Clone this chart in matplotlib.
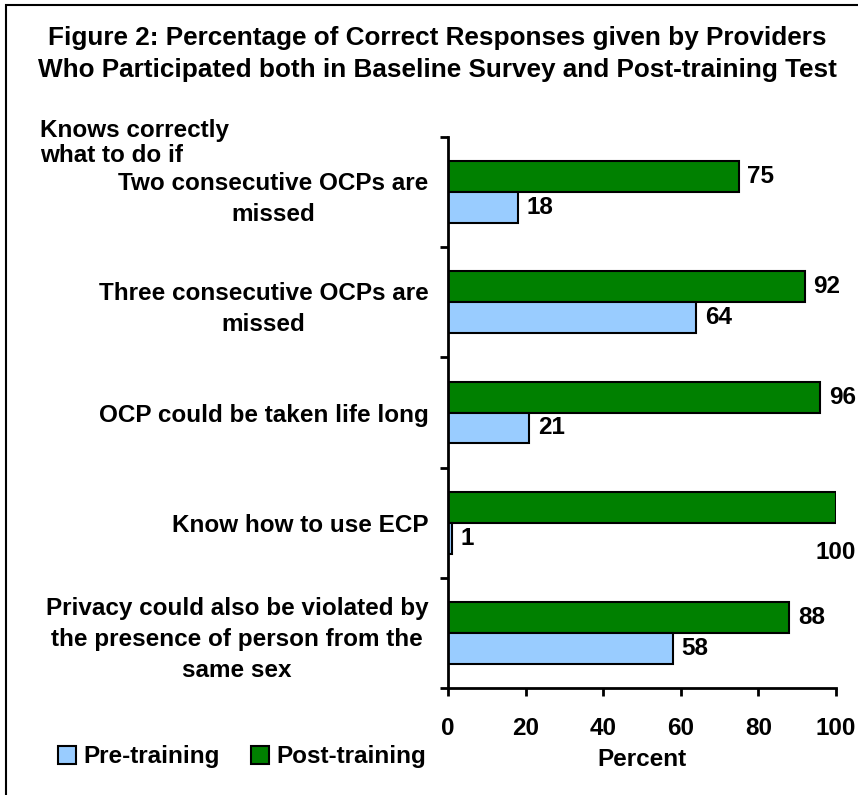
import numpy as np
import matplotlib.pyplot as plt
from matplotlib.patches import Rectangle

# Chart data
categories = ["Two consecutive OCPs are\nmissed",
              "Three consecutive OCPs are\nmissed",
              "OCP could be taken life long",
              "Know how to use ECP",
              "Privacy could also be violated by\nthe presence of person from the\nsame sex"]
pre_training = [18, 64, 21, 1, 58]
post_training = [75, 92, 96, 100, 88]
xticks = [0, 20, 40, 60, 80, 100]

plt.rcParams['font.family'] = ['Liberation Sans', 'DejaVu Sans']
plt.rcParams['font.weight'] = 'bold'

W, H = 858, 795
fig = plt.figure(figsize=(W/100, H/100), dpi=100)
ax = fig.add_axes([448/W, 1-688/H, (836-448)/W, (688-137)/H])

fs = 17.5
col_pre = '#99CCFF'
col_post = '#008000'
bh = 0.28
y = np.arange(len(categories))

ax.barh(y - bh/2, post_training, height=bh, color=col_post, edgecolor='black', linewidth=1.5, label='Post-training')
ax.barh(y + bh/2, pre_training, height=bh, color=col_pre, edgecolor='black', linewidth=1.5, label='Pre-training')

# value labels (the 100 does not fit to the right, so it sits under the bar)
for i in range(len(categories)):
    if post_training[i] >= 100:
        ax.text(post_training[i], y[i] + bh*0.95, str(post_training[i]), ha='center', va='center',
                fontsize=fs, fontweight='bold', clip_on=False)
    else:
        ax.annotate(str(post_training[i]), (post_training[i], y[i] - bh/2), xytext=(6, 0),
                    textcoords='offset points', va='center', fontsize=fs, fontweight='bold')
    ax.annotate(str(pre_training[i]), (pre_training[i], y[i] + bh/2), xytext=(6, 0),
                textcoords='offset points', va='center', fontsize=fs, fontweight='bold')

ax.set_xlim(0, 100)
ax.set_ylim(len(categories) - 0.5, -0.5)
ax.set_xticks(xticks)
ax.set_xticklabels([str(t) for t in xticks], fontsize=fs, fontweight='bold')
ax.set_yticks(np.arange(len(categories) + 1) - 0.5)
ax.set_yticklabels([])
ax.set_yticks(y, minor=True)
ax.set_yticklabels(categories, minor=True, fontsize=fs, fontweight='bold', ha='right',
                   multialignment='center', linespacing=1.45)
ax.tick_params(axis='y', which='minor', length=0, pad=14)
ax.tick_params(axis='y', which='major', length=6, width=2, direction='out')
ax.tick_params(axis='x', length=6, width=2, direction='out', pad=15)
for s in ['top', 'right']:
    ax.spines[s].set_visible(False)
for s in ['left', 'bottom']:
    ax.spines[s].set_linewidth(2)

ax.set_xlabel('Percent', fontsize=fs, fontweight='bold', labelpad=6)

fig.text(437/W, 1-38/H, 'Figure 2: Percentage of Correct Responses given by Providers',
         ha='center', va='center', fontsize=18.8, fontweight='bold')
fig.text(437/W, 1-70/H, 'Who Participated both in Baseline Survey and Post-training Test',
         ha='center', va='center', fontsize=18.8, fontweight='bold')
fig.text(40/W, 1-143/H, 'Knows correctly\nwhat to do if', ha='left', va='center',
         fontsize=fs, fontweight='bold', linespacing=1.1)

h, l = ax.get_legend_handles_labels()
fig.legend(h[::-1], l[::-1], loc='center left', bbox_to_anchor=(48/W, 1-757/H), ncol=2,
           frameon=False, handlelength=0.75, handleheight=0.75, handletextpad=0.3,
           columnspacing=1.3, borderaxespad=0, prop={'weight': 'bold', 'size': fs})

fig.patches.append(Rectangle((6/W, -0.1), 1.2, 1.1 - 5/H, transform=fig.transFigure,
                             fill=False, edgecolor='black', linewidth=1.5))

fig.savefig('out.png', dpi=100)
